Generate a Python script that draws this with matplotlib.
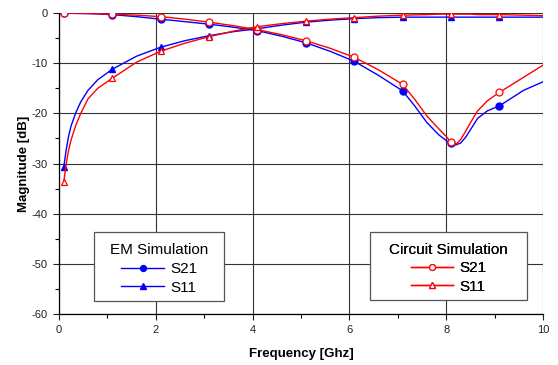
"""
S-parameter magnitude vs frequency: EM simulation against circuit simulation.
"""

import matplotlib

matplotlib.use("Agg")
import matplotlib.pyplot as plt
import numpy as np
from matplotlib.patches import Rectangle

OUTPUT_PATH = "out.png"

# Frequency points (GHz)
freq = [0.1, 0.15, 0.2, 0.25, 0.35, 0.45, 0.6, 0.8,
        1.1, 1.6, 2.1, 2.6, 3.1, 3.6, 4.1, 4.6, 5.1, 5.6, 6.1, 6.6,
        7.1, 7.35, 7.6, 7.85, 8.0, 8.1, 8.2, 8.3, 8.4, 8.5, 8.65, 8.85,
        9.1, 9.6, 10.0]
# Frequencies where the chart shows a marker
marker_freq = [0.1, 1.1, 2.1, 3.1, 4.1, 5.1, 6.1, 7.1, 8.1, 9.1]

em_s21 = [0.0, 0.0, 0.0, -0.02, -0.05, -0.07, -0.1, -0.15,
          -0.3, -0.7, -1.2, -1.7, -2.2, -2.8, -3.5, -4.6, -5.9, -7.6, -9.6, -12.4,
          -15.5, -18.5, -21.8, -24.3, -25.4, -26.0, -26.3, -25.9, -24.8, -23.3,
          -21.0, -19.5,
          -18.5, -15.4, -13.7]
em_s11 = [-30.6, -27.2, -24.5, -22.5, -19.8, -17.7, -15.4, -13.3,
          -11.2, -8.6, -6.8, -5.5, -4.5, -3.7, -3.1, -2.4, -1.8, -1.4, -1.1, -0.9,
          -0.8, -0.8, -0.8, -0.8, -0.8, -0.8, -0.8, -0.8, -0.8, -0.8, -0.8, -0.8,
          -0.8, -0.8, -0.8]
circ_s21 = [0.0, 0.0, 0.0, 0.0, 0.0, 0.0, -0.05, -0.1,
            -0.2, -0.4, -0.7, -1.2, -1.8, -2.5, -3.3, -4.3, -5.5, -7.0, -8.8, -11.3,
            -14.2, -17.2, -20.5, -23.1, -24.6, -25.7, -26.2, -25.2, -23.6, -21.9,
            -19.5, -17.5,
            -15.8, -12.8, -10.4]
circ_s11 = [-33.6, -30.0, -27.3, -25.3, -22.3, -20.0, -17.1, -15.0,
            -13.0, -9.8, -7.6, -6.0, -4.7, -3.6, -2.7, -2.1, -1.6, -1.2, -0.9, -0.6,
            -0.4, -0.35, -0.3, -0.2, -0.2, -0.2, -0.2, -0.2, -0.2, -0.2, -0.3, -0.3,
            -0.3, -0.4, -0.5]

BLUE = "#0000ff"
RED = "#ff0000"


def boxed_legend(ax, handles, title, box):
    # white box drawn by hand so its width/height can match the original
    x0, y0, w, h = box
    ax.add_patch(Rectangle((x0, y0), w, h, transform=ax.transAxes,
                           facecolor="white", edgecolor="#555555",
                           linewidth=0.9, zorder=6))
    leg = ax.legend(handles, ["S21", "S11"], title=title, loc="center",
                    bbox_to_anchor=(x0 + w / 2, y0 + h / 2 - 0.008),
                    frameon=False, fontsize=11, title_fontsize=11,
                    handlelength=2.8, handletextpad=0.4, borderpad=0.0,
                    labelspacing=0.3, markerscale=0.85)
    leg.set_zorder(7)
    ax.add_artist(leg)
    return leg


def main():
    plt.rcParams["font.family"] = ["Liberation Sans", "DejaVu Sans"]
    plt.rcParams["axes.unicode_minus"] = False

    fig = plt.figure(figsize=(5.58, 3.65), dpi=100)
    ax = fig.add_axes([0.1057, 0.140, 0.8673, 0.824])

    f = np.array(freq)
    marks = [i for i, v in enumerate(f) if np.isclose(marker_freq, v).any()]

    common = dict(linewidth=1.0, markevery=marks, markersize=5)
    l_em21, = ax.plot(f, em_s21, color=BLUE, marker="o", markerfacecolor=BLUE,
                      markeredgecolor=BLUE, zorder=3, **common)
    l_em11, = ax.plot(f, em_s11, color=BLUE, marker="^", markerfacecolor=BLUE,
                      markeredgecolor=BLUE, zorder=3, **common)
    l_c21, = ax.plot(f, circ_s21, color=RED, marker="o", markerfacecolor="white",
                     markeredgecolor=RED, markeredgewidth=0.9, zorder=4, **common)
    l_c11, = ax.plot(f, circ_s11, color=RED, marker="^", markerfacecolor="white",
                     markeredgecolor=RED, markeredgewidth=0.9, zorder=4, **common)

    ax.set_xlim(0, 10)
    ax.set_ylim(-60, 0)
    ax.set_xticks(np.arange(0, 11, 2))
    ax.set_xticks(np.arange(1, 10, 2), minor=True)
    ax.set_yticks(np.arange(-60, 1, 10))
    ax.set_yticks(np.arange(-55, 0, 10), minor=True)
    ax.tick_params(which="major", direction="out", length=4, width=0.8,
                   labelsize=8, pad=4, colors="#222222")
    ax.tick_params(which="minor", direction="out", length=3, width=0.8)

    ax.grid(which="major", color="#333333", linewidth=0.8)
    ax.set_axisbelow(True)
    for side in ("top", "right"):
        ax.spines[side].set_visible(False)
    for side in ("left", "bottom"):
        ax.spines[side].set_linewidth(0.9)

    ax.set_xlabel("Frequency [Ghz]", fontsize=9.5, fontweight="bold", labelpad=9)
    ax.set_ylabel("Magnitude [dB]", fontsize=9.5, fontweight="bold", labelpad=1)

    boxed_legend(ax, [l_em21, l_em11], "EM Simulation",
                 (0.073, 0.044, 0.268, 0.227))
    boxed_legend(ax, [l_c21, l_c11], "Circuit Simulation",
                 (0.643, 0.047, 0.324, 0.226))

    fig.savefig(OUTPUT_PATH, dpi=100)
    plt.close(fig)


if __name__ == "__main__":
    main()
